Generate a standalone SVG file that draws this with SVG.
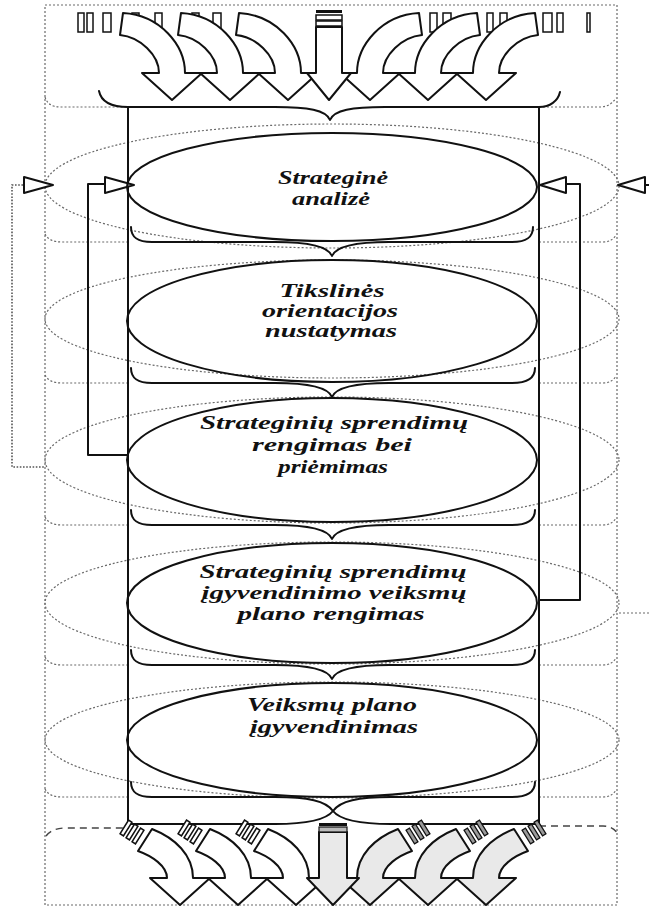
<svg xmlns="http://www.w3.org/2000/svg" xmlns:xlink="http://www.w3.org/1999/xlink" width="649" height="907" viewBox="0 0 649 907">
<style>
.s{fill:none;stroke:#111;stroke-width:2;stroke-linejoin:round;stroke-linecap:round}
.e{fill:none;stroke:#111;stroke-width:2}
.d{fill:none;stroke:#6a6a6a;stroke-width:1.2;stroke-dasharray:2 2}
.dd{fill:none;stroke:#444;stroke-width:1.4;stroke-dasharray:7 5}
.ar{fill:#fff;stroke:#111;stroke-width:2;stroke-linejoin:round}
.arg{fill:#e9e9e9;stroke:#111;stroke-width:2;stroke-linejoin:round}
.bar{fill:#fff;stroke:#111;stroke-width:1.5}
.barg{fill:#9a9a9a;stroke:#111;stroke-width:1.3}
.tri{fill:#fff;stroke:#111;stroke-width:2;stroke-linejoin:round}
.t{font-family:"Liberation Serif","Times New Roman",serif;font-weight:bold;font-style:italic;font-size:18px;fill:#111;text-anchor:middle}
</style>
<defs>
<path id="topArrow" d="M-49,13 C-12,15 13,45 13,73 L30,73 L0,100 L-30,73 L-13,73 C-13,55 -32,37 -52,35 Z"/>
<path id="botArrow" d="M-28,829 C-5,838 13,855 13,878 L30,878 L0,905 L-30,878 L-13,878 C-13,866 -28,856 -42,851 Z"/>
<g id="botBars">
<rect x="-2" y="-8" width="4" height="16" transform="translate(-42,836) rotate(32)"/>
<rect x="-2" y="-8" width="4" height="16" transform="translate(-48,832) rotate(32)"/>
<rect x="-2" y="-8" width="4" height="16" transform="translate(-54,828) rotate(32)"/>
</g>
</defs>

<!-- dotted guides -->
<g id="guides">
<rect class="d" x="45" y="5" width="572" height="900"/>
<ellipse class="d" cx="332" cy="186" rx="287" ry="62"/>
<ellipse class="d" cx="332" cy="319" rx="287" ry="59"/>
<ellipse class="d" cx="332" cy="460" rx="287" ry="63"/>
<ellipse class="d" cx="332" cy="603" rx="287" ry="61"/>
<ellipse class="d" cx="332" cy="740" rx="287" ry="58"/>
<path class="d" d="M45,97 Q48,107 60,107 L128,107 M539,107 L600,107 Q610,107 616,98"/>
<path class="d" d="M45,234 Q49,242 62,242 L128,242 M539,242 L603,242 Q612,242 616,235"/>
<path class="d" d="M45,375 Q49,383 62,383 L128,383 M539,383 L603,383 Q612,383 616,376"/>
<path class="d" d="M45,517 Q49,525 62,525 L128,525 M539,525 L603,525 Q612,525 616,518"/>
<path class="d" d="M45,657 Q49,665 62,665 L128,665 M539,665 L603,665 Q612,665 616,658"/>
<path class="d" d="M45,789 Q49,797 62,797 L128,797 M539,797 L603,797 Q612,797 616,790"/>
<path class="dd" d="M46,836 Q52,828 66,828 L128,828 M539,826 L603,826 Q613,826 618,834"/>
</g>

<!-- top inputs -->
<g id="top-inputs">
<g class="bar">
<rect x="78" y="13" width="6" height="19"/><rect x="87" y="13" width="6" height="19"/><rect x="103" y="13" width="8" height="19"/>
<rect x="132" y="13" width="7" height="19"/><rect x="155" y="13" width="7" height="19"/><rect x="192" y="13" width="7" height="19"/><rect x="213" y="13" width="8" height="19"/>
<rect x="430" y="13" width="7" height="19"/><rect x="443" y="13" width="8" height="19"/><rect x="487" y="13" width="6" height="19"/><rect x="500" y="13" width="7" height="19"/>
<rect x="543" y="13" width="9" height="19"/><rect x="557" y="13" width="6" height="19"/><rect x="587" y="13" width="3" height="19"/>
</g>
<g class="ar">
<use xlink:href="#topArrow" transform="translate(172,0)"/>
<use xlink:href="#topArrow" transform="translate(230,0)"/>
<use xlink:href="#topArrow" transform="translate(288,0)"/>
<g transform="translate(658,0) scale(-1,1)">
<use xlink:href="#topArrow" transform="translate(172,0)"/>
<use xlink:href="#topArrow" transform="translate(230,0)"/>
<use xlink:href="#topArrow" transform="translate(288,0)"/>
</g>
<path d="M316,27 L342,27 L342,73 L351,73 L329,100 L307,73 L316,73 Z"/>
</g>
<rect x="316" y="10" width="26" height="3" fill="#111"/>
<rect class="bar" x="316" y="15" width="26" height="5"/>
<rect class="bar" x="316" y="21" width="26" height="5"/>
</g>

<!-- connectors -->
<g id="connectors">
<path class="s" d="M128,107 L128,828 M539,107 L539,826"/>
<path class="s" d="M99,91 C101,101 110,107 128,107 L275,107 C308,107 326,110 330,120 C334,110 352,107 385,107 L539,107 C550,107 558,101 560,92"/>
<path class="s" d="M131,227 C131,237 137,242 152,242 L275,242 C308,242 328,246 332,256 C336,246 356,242 389,242 L512,242 C527,242 533,237 533,227"/>
<path class="s" d="M131,368 C131,378 137,383 152,383 L275,383 C308,383 328,387 332,397 C336,387 356,383 389,383 L512,383 C527,383 535,378 535,368"/>
<path class="s" d="M131,510 C131,520 137,525 152,525 L275,525 C308,525 328,529 332,539 C336,529 356,525 389,525 L512,525 C527,525 535,520 535,510"/>
<path class="s" d="M131,650 C131,660 137,665 152,665 L275,665 C308,665 328,669 332,679 C336,669 356,665 389,665 L512,665 C527,665 535,660 535,650"/>
<path class="s" d="M131,782 C131,792 137,797 152,797 L275,797 C308,797 326,801 333,811 C340,801 358,797 391,797 L512,797 C527,797 535,792 535,782"/>
<path class="s" d="M128,824 L275,824 C308,824 326,820 333,811 C340,820 358,824 391,824 L539,824"/>
<path class="s" d="M105,184 L88,184 L88,455 L128,455"/>
<polygon class="tri" points="105,177 105,193 134,185"/>
<path class="s" d="M566,184 L580,184 L580,600 L539,600"/>
<polygon class="tri" points="566,177 566,193 540,185"/>
<path fill="none" stroke="#555" stroke-width="1.6" stroke-dasharray="1.6 1.6" d="M23,185 L12,185 L12,467 L45,467"/>
<polygon class="tri" points="24,177 24,193 53,185"/>
<polygon class="tri" points="645,177 645,193 618,185"/>
<path class="s" d="M645,185 L649,185"/>
<path class="d" d="M619,613 L649,613"/>
</g>

<!-- stages -->
<g id="stage1">
<ellipse class="e" cx="332" cy="187" rx="205" ry="54"/>
<text class="t" x="333" y="184" textLength="110" lengthAdjust="spacingAndGlyphs">Strateginė</text>
<text class="t" x="331" y="205" textLength="78" lengthAdjust="spacingAndGlyphs">analizė</text>
</g>
<g id="stage2">
<ellipse class="e" cx="332" cy="321" rx="205" ry="61"/>
<text class="t" x="332" y="297" textLength="105" lengthAdjust="spacingAndGlyphs">Tikslinės</text>
<text class="t" x="330" y="317" textLength="136" lengthAdjust="spacingAndGlyphs">orientacijos</text>
<text class="t" x="331" y="337" textLength="132" lengthAdjust="spacingAndGlyphs">nustatymas</text>
</g>
<g id="stage3">
<ellipse class="e" cx="332" cy="460" rx="205" ry="62"/>
<text class="t" x="334" y="429" textLength="268" lengthAdjust="spacingAndGlyphs">Strateginių sprendimų</text>
<text class="t" x="332" y="451" textLength="160" lengthAdjust="spacingAndGlyphs">rengimas bei</text>
<text class="t" x="333" y="473" textLength="110" lengthAdjust="spacingAndGlyphs">priėmimas</text>
</g>
<g id="stage4">
<ellipse class="e" cx="332" cy="603" rx="205" ry="60"/>
<text class="t" x="333" y="578" textLength="267" lengthAdjust="spacingAndGlyphs">Strateginių sprendimų</text>
<text class="t" x="334" y="599" textLength="265" lengthAdjust="spacingAndGlyphs">įgyvendinimo veiksmų</text>
<text class="t" x="331" y="620" textLength="187" lengthAdjust="spacingAndGlyphs">plano rengimas</text>
</g>
<g id="stage5">
<ellipse class="e" cx="332" cy="740" rx="205" ry="57"/>
<text class="t" x="332" y="711" textLength="170" lengthAdjust="spacingAndGlyphs">Veiksmų plano</text>
<text class="t" x="334" y="733" textLength="168" lengthAdjust="spacingAndGlyphs">įgyvendinimas</text>
</g>

<!-- bottom outputs -->
<g id="bottom-outputs">
<g class="bar">
<use xlink:href="#botBars" transform="translate(180,0)"/>
<use xlink:href="#botBars" transform="translate(238,0)"/>
<use xlink:href="#botBars" transform="translate(296,0)"/>
</g>
<g class="barg" transform="translate(666,0) scale(-1,1)">
<use xlink:href="#botBars" transform="translate(180,0)"/>
<use xlink:href="#botBars" transform="translate(238,0)"/>
<use xlink:href="#botBars" transform="translate(296,0)"/>
</g>
<g class="ar">
<use xlink:href="#botArrow" transform="translate(180,0)"/>
<use xlink:href="#botArrow" transform="translate(238,0)"/>
<use xlink:href="#botArrow" transform="translate(296,0)"/>
</g>
<g class="arg" transform="translate(666,0) scale(-1,1)">
<use xlink:href="#botArrow" transform="translate(180,0)"/>
<use xlink:href="#botArrow" transform="translate(238,0)"/>
<use xlink:href="#botArrow" transform="translate(296,0)"/>
</g>
<path class="arg" d="M319,832 L347,832 L347,878 L359,878 L333,905 L307,878 L319,878 Z"/>
<rect x="319" y="823" width="28" height="3" fill="#111"/>
<rect x="319" y="827" width="28" height="5" fill="#bbb" stroke="#111" stroke-width="1.2"/>
</g>
</svg>
